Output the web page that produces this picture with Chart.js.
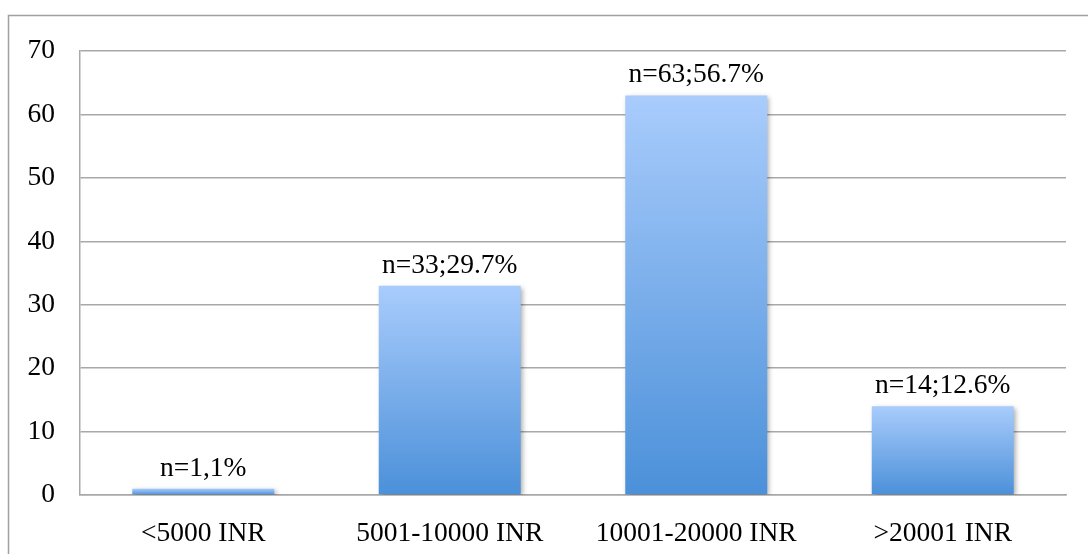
<!DOCTYPE html>
<html>
<head>
<meta charset="utf-8">
<script src="https://cdn.jsdelivr.net/npm/chart.js@4/dist/chart.umd.min.js"></script>
<style>
  html, body { margin: 0; padding: 0; background: #ffffff; }
  #wrap { width: 1088px; height: 554px; position: relative; }
</style>
</head>
<body>
<div id="wrap"><canvas id="c" width="1088" height="554"></canvas></div>
<script>
// Monthly income groups and respondent counts
const categories = ['<5000 INR', '5001-10000 INR', '10001-20000 INR', '>20001 INR'];
const counts = [1, 33, 63, 14];
const valueLabels = ['n=1,1%', 'n=33;29.7%', 'n=63;56.7%', 'n=14;12.6%'];
const yMin = 0;
const yMax = 70;
const yStep = 10;

const FONT = "'Liberation Serif', 'Times New Roman', serif";
const FONT_SIZE = 27.5;
const GRID = '#a8a8a8';

// Vertical gradient from each bar's top down to the baseline
function barGradient(ctx) {
  const chart = ctx.chart;
  const area = chart.chartArea;
  if (!area || ctx.type !== 'data') return '#7fb0ee';
  const ys = chart.scales.y;
  const top = ys.getPixelForValue(counts[ctx.dataIndex]);
  const bottom = ys.getPixelForValue(0);
  const g = chart.ctx.createLinearGradient(0, top, 0, bottom);
  g.addColorStop(0, '#a9ccfc');
  g.addColorStop(1, '#4b90d9');
  return g;
}

// Soft drop shadow behind the bars
const barShadow = {
  id: 'barShadow',
  beforeDatasetsDraw(chart) {
    const c = chart.ctx;
    c.save();
    c.shadowColor = 'rgba(0,0,0,0.35)';
    c.shadowBlur = 5;
    c.shadowOffsetX = 2;
    c.shadowOffsetY = 2;
  },
  afterDatasetsDraw(chart) {
    chart.ctx.restore();
  }
};

// Count/percentage text above each bar
const valueText = {
  id: 'valueText',
  afterDatasetsDraw(chart) {
    const c = chart.ctx;
    const meta = chart.getDatasetMeta(0);
    c.save();
    c.font = FONT_SIZE + 'px ' + FONT;
    c.fillStyle = '#000000';
    c.textAlign = 'center';
    c.textBaseline = 'alphabetic';
    meta.data.forEach((bar, i) => {
      c.fillText(valueLabels[i], bar.x, bar.y - 13);
    });
    c.restore();
  }
};

// Light frame around the whole figure
const frame = {
  id: 'frame',
  beforeDraw(chart) {
    const c = chart.ctx;
    c.save();
    c.strokeStyle = '#a0a0a0';
    c.lineWidth = 1.5;
    c.strokeRect(8.5, 15.5, 1200, 700);
    c.restore();
  }
};

new Chart(document.getElementById('c'), {
  type: 'bar',
  data: {
    labels: categories,
    datasets: [{
      data: counts,
      backgroundColor: barGradient,
      borderWidth: 0,
      barPercentage: 0.576,
      categoryPercentage: 1.0
    }]
  },
  options: {
    responsive: false,
    animation: false,
    devicePixelRatio: 1,
    layout: { padding: { left: 8, top: 51, right: 22, bottom: 0 } },
    plugins: {
      legend: { display: false },
      tooltip: { enabled: false }
    },
    scales: {
      x: {
        grid: { display: false, drawTicks: false },
        border: { display: true, color: GRID, width: 1.5 },
        ticks: {
          color: '#000000',
          font: { family: FONT, size: FONT_SIZE },
          padding: 22,
          maxRotation: 0
        },
        afterFit(s) { s.height = 59; }
      },
      y: {
        min: yMin,
        max: yMax,
        grid: { color: GRID, lineWidth: 1.5, drawTicks: false },
        border: { display: true, color: GRID, width: 1.5 },
        ticks: {
          stepSize: yStep,
          color: '#000000',
          font: { family: FONT, size: FONT_SIZE },
          padding: 25
        },
        afterFit(s) { s.width = 72; }
      }
    }
  },
  plugins: [frame, barShadow, valueText]
});
</script>
</body>
</html>
